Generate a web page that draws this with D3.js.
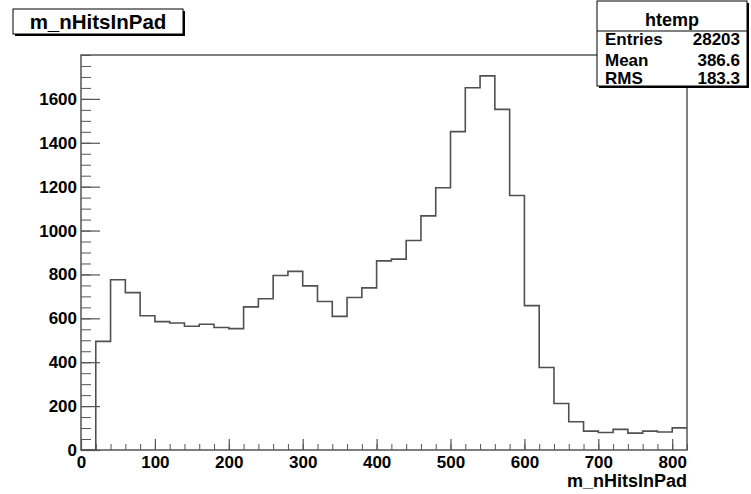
<!DOCTYPE html>
<html>
<head>
<meta charset="utf-8">
<script src="https://cdn.jsdelivr.net/npm/d3@7"></script>
<style>
  body { margin: 0; background: #fff; }
  svg { display: block; font-family: "Liberation Sans", Arial, Helvetica, sans-serif; font-weight: bold; }
  .tick line { stroke: #555; }
  .tick text { fill: #000; }
</style>
</head>
<body>
<svg id="chart" width="751" height="494"></svg>
<script>
// histogram bins (20 wide) and counts
const binStarts = [0, 20, 40, 60, 80, 100, 120, 140, 160, 180, 200, 220, 240, 260, 280, 300, 320, 340, 360, 380,
                   400, 420, 440, 460, 480, 500, 520, 540, 560, 580, 600, 620, 640, 660, 680, 700, 720, 740, 760, 780, 800]
const counts = [0, 495, 776, 717, 612, 585, 579, 564, 573, 558, 553, 652, 689, 795, 814, 748, 677, 609, 695, 739,
                862, 870, 955, 1067, 1195, 1451, 1651, 1705, 1552, 1160, 658, 376, 212, 129, 86, 80, 94, 77, 86, 82, 101]
const binWidth = 20

const xTicks = [0, 100, 200, 300, 400, 500, 600, 700, 800]
const yTicks = [0, 200, 400, 600, 800, 1000, 1200, 1400, 1600]

const histTitle = 'm_nHitsInPad'
const statsName = 'htemp'
const statsLabels = ['Entries', 'Mean', 'RMS']
const statsValues = ['28203', '386.6', '183.3']

const svg = d3.select('#chart')
const frame = { left: 81, right: 687, top: 55, bottom: 450 }

const x = d3.scaleLinear().domain([0, 820]).range([frame.left, frame.right])
const y = d3.scaleLinear().domain([0, 1800]).range([frame.bottom, frame.top])

// Minor ticks first, majors drawn on top
svg.append('g')
    .attr('transform', `translate(${frame.left},0)`)
    .call(d3.axisLeft(y).tickValues(d3.range(0, 1801, 50)).tickSize(-10).tickFormat(''))
    .call(g => g.select('.domain').remove())

svg.append('g')
    .attr('transform', `translate(${frame.left},0)`)
    .call(d3.axisLeft(y).tickValues(yTicks).tickSize(-19).tickPadding(4).tickFormat(d3.format('d')))
    .call(g => g.select('.domain').remove())
    .call(g => g.selectAll('text').attr('font-size', 17).attr('font-weight', 'bold'))
    .call(g => g.selectAll('line').attr('stroke-width', 1.2))

svg.append('g')
    .attr('transform', `translate(0,${frame.bottom})`)
    .call(d3.axisBottom(x).tickValues(d3.range(0, 821, 20)).tickSize(-6).tickFormat(''))
    .call(g => g.select('.domain').remove())

svg.append('g')
    .attr('transform', `translate(0,${frame.bottom})`)
    .call(d3.axisBottom(x).tickValues(xTicks).tickSize(-11).tickPadding(6).tickFormat(d3.format('d')))
    .call(g => g.select('.domain').remove())
    .call(g => g.selectAll('text').attr('font-size', 17).attr('font-weight', 'bold'))
    .call(g => g.selectAll('line').attr('stroke-width', 1.2))

// Frame
svg.append('rect')
    .attr('x', frame.left).attr('y', frame.top)
    .attr('width', frame.right - frame.left).attr('height', frame.bottom - frame.top)
    .attr('fill', 'none').attr('stroke', '#555').attr('stroke-width', 1.5)

// Histogram outline as a step line
const pts = binStarts.map((b, i) => [b, counts[i]])
pts.push([binStarts[binStarts.length - 1] + binWidth, counts[counts.length - 1]])
const line = d3.line().x(d => x(d[0])).y(d => y(d[1])).curve(d3.curveStepAfter)
svg.append('path')
    .attr('d', line(pts))
    .attr('fill', 'none').attr('stroke', '#505050').attr('stroke-width', 1.6)

// Axis title
svg.append('text')
    .attr('x', frame.right).attr('y', 487)
    .attr('text-anchor', 'end').attr('font-size', 18)
    .text(histTitle)

// Title box with shadow
const tb = { x: 13, y: 9, w: 170, h: 25 }
svg.append('rect').attr('x', tb.x + 2).attr('y', tb.y + 2).attr('width', tb.w).attr('height', tb.h).attr('fill', '#000')
svg.append('rect').attr('x', tb.x).attr('y', tb.y).attr('width', tb.w).attr('height', tb.h)
    .attr('fill', '#fff').attr('stroke', '#000').attr('stroke-width', 1)
svg.append('text')
    .attr('x', tb.x + tb.w / 2).attr('y', 29)
    .attr('text-anchor', 'middle').attr('font-size', 20.5)
    .text(histTitle)

// Stats box
const sb = { x: 597, y: 1, w: 150, h: 85 }
svg.append('rect').attr('x', sb.x + 2).attr('y', sb.y + 2).attr('width', sb.w).attr('height', sb.h).attr('fill', '#000')
svg.append('rect').attr('x', sb.x).attr('y', sb.y).attr('width', sb.w).attr('height', sb.h)
    .attr('fill', '#fff').attr('stroke', '#000').attr('stroke-width', 1)
svg.append('line')
    .attr('x1', sb.x).attr('x2', sb.x + sb.w).attr('y1', 31).attr('y2', 31)
    .attr('stroke', '#000').attr('stroke-width', 1)
svg.append('text')
    .attr('x', sb.x + sb.w / 2).attr('y', 26)
    .attr('text-anchor', 'middle').attr('font-size', 18)
    .text(statsName)

const rowY = [45, 66, 84]
statsLabels.forEach((lab, i) => {
    svg.append('text').attr('x', 605).attr('y', rowY[i]).attr('font-size', 17).text(lab)
    svg.append('text').attr('x', 740).attr('y', rowY[i]).attr('text-anchor', 'end').attr('font-size', 17).text(statsValues[i])
})
</script>
</body>
</html>
